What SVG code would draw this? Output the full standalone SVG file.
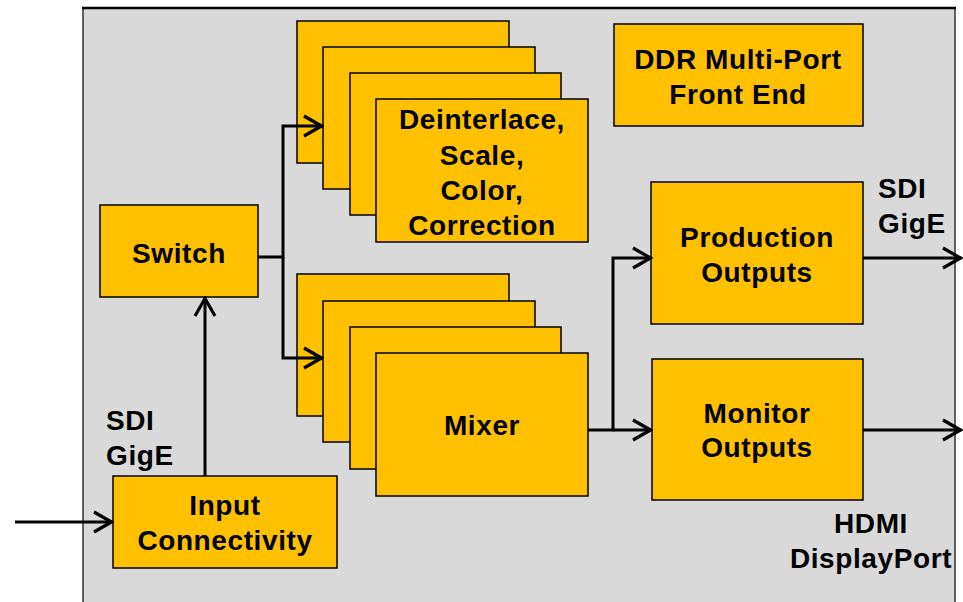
<svg xmlns="http://www.w3.org/2000/svg" width="963" height="602" viewBox="0 0 963 602">
<defs>
<style>
.box{fill:#FFC000;stroke:#000;stroke-width:1.5}
.t{font-family:"Liberation Sans",Arial,sans-serif;font-weight:bold;font-size:28px;letter-spacing:0.6px;fill:#000}
.c{text-anchor:middle}
.w{fill:none;stroke:#000;stroke-width:3;stroke-linejoin:miter}
</style>
<marker id="ah" viewBox="0 0 22 26" refX="20" refY="13" markerWidth="22" markerHeight="26" markerUnits="userSpaceOnUse" orient="auto">
<polyline points="2,3 19.5,13 2,23" fill="none" stroke="#000" stroke-width="3.2"/>
</marker>
</defs>
<rect width="963" height="602" fill="#fff"/>
<g id="frame">
<rect x="83" y="8" width="872" height="600" fill="#D9D9D9" stroke="#333" stroke-width="1.5"/>
<line x1="82" y1="8" x2="956" y2="8" stroke="#000" stroke-width="2.5"/>
</g>
<g id="ddr">
<rect class="box" x="614" y="24" width="249" height="102"/>
<text class="t c" x="738" y="69">DDR Multi-Port</text>
<text class="t c" x="738" y="104">Front End</text>
</g>
<g id="switch">
<rect class="box" x="100" y="205" width="158" height="92"/>
<text class="t c" x="179" y="263">Switch</text>
</g>
<g id="input">
<rect class="box" x="113" y="476" width="224" height="92"/>
<text class="t c" x="225" y="515">Input</text>
<text class="t c" x="225" y="550">Connectivity</text>
</g>
<g id="deinterlace-stack">
<rect class="box" x="297" y="21" width="212" height="142"/>
<rect class="box" x="323" y="47" width="212" height="142"/>
<rect class="box" x="350" y="73" width="211" height="142"/>
<rect class="box" x="376" y="99" width="212" height="143"/>
<text class="t c" x="482" y="129">Deinterlace,</text>
<text class="t c" x="482" y="165">Scale,</text>
<text class="t c" x="482" y="200">Color,</text>
<text class="t c" x="482" y="235">Correction</text>
</g>
<g id="mixer-stack">
<rect class="box" x="297" y="274" width="212" height="142"/>
<rect class="box" x="323" y="301" width="212" height="141"/>
<rect class="box" x="350" y="327" width="211" height="142"/>
<rect class="box" x="376" y="353" width="212" height="143"/>
<text class="t c" x="482" y="435">Mixer</text>
</g>
<g id="production">
<rect class="box" x="651" y="182" width="212" height="142"/>
<text class="t c" x="757" y="247">Production</text>
<text class="t c" x="757" y="282">Outputs</text>
</g>
<g id="monitor">
<rect class="box" x="652" y="359" width="211" height="141"/>
<text class="t c" x="757" y="423">Monitor</text>
<text class="t c" x="757" y="457">Outputs</text>
</g>
<g id="labels">
<text class="t" x="106" y="430">SDI</text>
<text class="t" x="106" y="465">GigE</text>
<text class="t" x="878" y="198">SDI</text>
<text class="t" x="878" y="233">GigE</text>
<text class="t c" x="871" y="533">HDMI</text>
<text class="t c" x="871" y="568">DisplayPort</text>
</g>
<g id="connectors">
<line class="w" x1="15" y1="522" x2="112" y2="522" marker-end="url(#ah)"/>
<line class="w" x1="205" y1="476" x2="205" y2="298" marker-end="url(#ah)"/>
<polyline class="w" points="258,257 283,257 283,126 322,126" marker-end="url(#ah)"/>
<polyline class="w" points="283,257 283,358 322,358" marker-end="url(#ah)"/>
<polyline class="w" points="588,430 613,430 613,258 651,258" marker-end="url(#ah)"/>
<line class="w" x1="613" y1="430" x2="651" y2="430" marker-end="url(#ah)"/>
<line class="w" x1="863" y1="258" x2="961" y2="258" marker-end="url(#ah)"/>
<line class="w" x1="863" y1="430" x2="961" y2="430" marker-end="url(#ah)"/>
</g>
</svg>
